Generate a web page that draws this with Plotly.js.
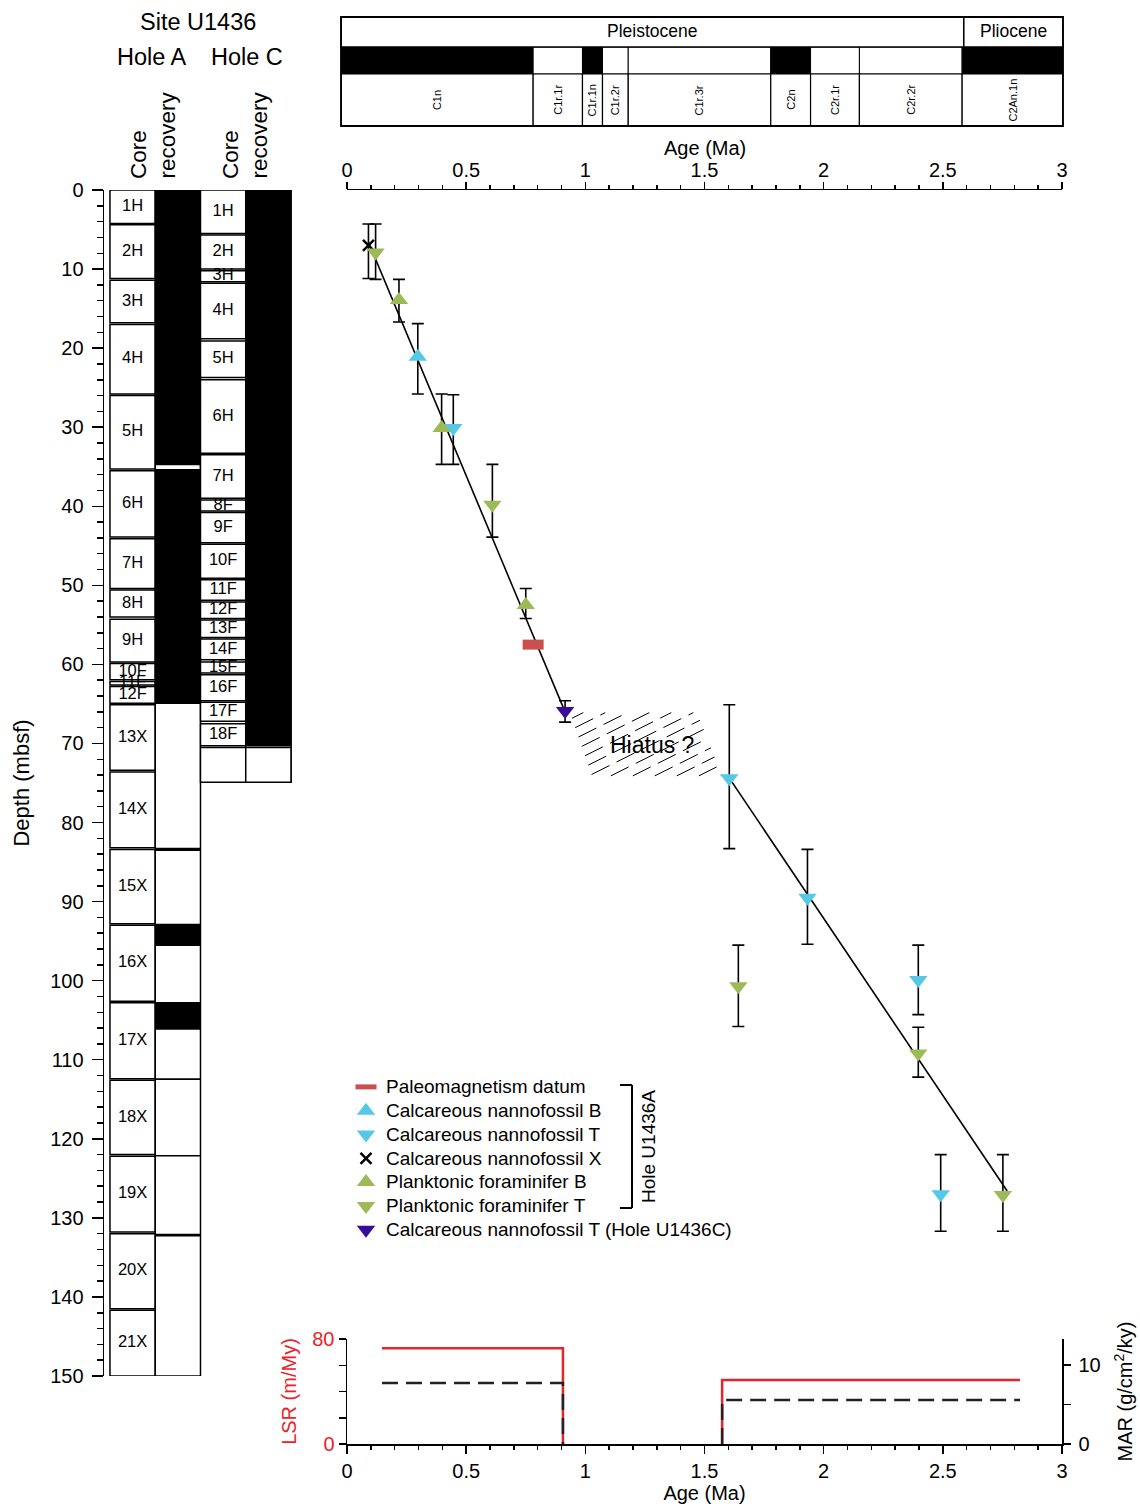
<!DOCTYPE html>
<html><head><meta charset="utf-8">
<script src="https://cdn.plot.ly/plotly-3.0.1.min.js"></script>
<style>body{margin:0;padding:0;background:#fff}#chart{width:1140px;height:1507px}</style>
</head><body><div id="chart"></div>
<script>
// ---------------- DATA ----------------
// Hole A cores (mbsf)
const holeACores  = ['1H','2H','3H','4H','5H','6H','7H','8H','9H','10F','11F','12F','13X','14X','15X','16X','17X','18X','19X','20X','21X'];
const holeATop    = [0,4.4,11.4,17.0,26.0,35.5,44.1,50.6,54.3,59.9,62.15,62.8,65.1,73.6,83.4,93.0,102.8,112.6,122.2,132.0,141.7];
const holeABottom = [4.25,11.2,16.8,25.8,35.3,43.9,50.4,54.0,59.7,61.95,62.6,64.9,73.4,83.2,92.8,102.6,112.4,122.0,131.8,141.5,150.0];
const holeARecTop    = [0,35.3,83.2,92.8,102.7,112.35,122.05,132.0];
const holeARecBottom = [34.8,65.0,83.6,95.6,106.2,112.55,122.25,132.35];
// Hole C cores (mbsf)
const holeCCores  = ['1H','2H','3H','4H','5H','6H','7H','8F','9F','10F','11F','12F','13F','14F','15F','16F','17F','18F',''];
const holeCTop    = [0,5.7,10.2,11.8,19.1,24.0,33.5,39.2,40.8,44.8,49.3,52.1,54.4,56.8,59.7,61.3,64.8,67.5,70.5];
const holeCBottom = [5.5,10.0,11.6,18.8,23.7,33.3,39.0,40.6,44.6,49.1,51.9,54.2,56.6,59.4,61.1,64.6,67.2,70.3,74.9];
const holeCRecTop    = [0];
const holeCRecBottom = [70.3];

// Chronostratigraphy (Ma)
const chronNames  = ['C1n','C1r.1r','C1r.1n','C1r.2r','C1r.3r','C2n','C2r.1r','C2r.2r','C2An.1n'];
const chronStart  = [-0.025,0.781,0.988,1.072,1.18,1.778,1.945,2.15,2.581];
const chronEnd    = [0.781,0.988,1.072,1.18,1.778,1.945,2.15,2.581,3.004];
const chronNormal = [1,0,1,0,0,1,0,0,1];
const epochNames  = ['Pleistocene','Pliocene'];
const epochStart  = [-0.025,2.588];
const epochEnd    = [2.588,3.004];

// Biostratigraphic / paleomagnetic datums: age (Ma), depth (mbsf), depth range top/bottom
const paleoAge = [0.781], paleoDepth = [57.5];
const nannoBAge = [0.297], nannoBDepth = [21.1], nannoBTop = [16.9], nannoBBot = [25.8];
const nannoTAge = [0.446,1.604,1.932,2.397,2.491], nannoTDepth = [30.1,74.4,89.5,99.9,127.0],
      nannoTTop = [25.9,65.1,83.4,95.5,122.0], nannoTBot = [34.7,83.3,95.4,104.3,131.7];
const nannoXAge = [0.09], nannoXDepth = [7.0], nannoXTop = [4.3], nannoXBot = [11.2];
const foramBAge = [0.218,0.397,0.75], foramBDepth = [13.9,30.1,52.5], foramBTop = [11.3,25.8,50.4], foramBBot = [16.7,34.7,54.2];
const foramTAge = [0.12,0.61,1.642,2.397,2.752], foramTDepth = [7.9,39.8,100.7,109.2,127.1],
      foramTTop = [4.3,34.7,95.5,105.9,122.0], foramTBot = [11.3,43.9,105.8,112.2,131.7];
const nannoTCAge = [0.915], nannoTCDepth = [65.9], nannoTCTop = [64.6], nannoTCBot = [67.3];

// Age model segments
const modelAge   = [0.09,0.915,null,1.60,2.77];
const modelDepth = [6.6,66.0,null,74.2,126.6];
// Hiatus polygon
const hiatusAge   = [0.936,1.469,1.573,1.028];
const hiatusDepth = [66.1,66.1,74.1,74.1];

// Sedimentation rates (step functions: value holds from rateAge[i] to rateAge[i+1])
const rateAge = [0.147,0.906,1.574,2.824];
const lsrValue = [73,0,48.8,48.8];     // m/My
const marValue = [7.73,0,5.57,5.57];   // g/cm2/ky

// ---------------- LAYOUT HELPERS ----------------
const W = 1140, H = 1507;
const fx = p => p / W;
const fy = p => 1 - p / H;
const dom = (a, b) => [fy(b), fy(a)];
const FONT = 'Liberation Sans, Arial, Helvetica, sans-serif';
const RED = '#e8232a', CYAN = '#55c8e6', GREEN = '#9cbb58', PURPLE = '#3b0a9b', PALEO = '#c9504f';
const pxMa = 715 / 3, pxM = 1186 / 150;

// ---------------- TRACES ----------------
const traces = [];
function barTrace(xpos, tops, bots, fill, lineW) {
  return {type:'bar', xaxis:'x', yaxis:'y', x: tops.map(() => xpos), base: tops,
    y: tops.map((t, i) => bots[i] - t), width: 1, cliponaxis:false,
    marker:{color: fill, line:{color:'black', width: lineW}}, showlegend:false, hoverinfo:'skip'};
}
traces.push(barTrace(0.5, holeATop, holeABottom, 'white', 1.5));
traces.push(barTrace(1.5, [holeATop[0]], [holeABottom[holeABottom.length-1]], 'white', 1.5));
traces.push(barTrace(1.5, holeARecTop, holeARecBottom, 'black', 0));
traces.push(barTrace(2.5, holeCTop, holeCBottom, 'white', 1.5));
traces.push(barTrace(3.5, [holeCTop[0]], [holeCBottom[holeCBottom.length-1]], 'white', 1.5));
traces.push(barTrace(3.5, holeCRecTop, holeCRecBottom, 'black', 1.5));
traces.push(barTrace(3.5, [holeCTop[holeCTop.length-1]], [holeCBottom[holeCBottom.length-1]], 'white', 1.5));
function labelTrace(xpos, names, tops, bots) {
  const keep = names.map((n, i) => i).filter(i => names[i] !== '');
  return {type:'scatter', mode:'text', xaxis:'x', yaxis:'y', x: keep.map(() => xpos),
    y: keep.map(i => (tops[i] + bots[i]) / 2), text: keep.map(i => names[i]), cliponaxis:false,
    textfont:{size:16.5, color:'black', family:FONT}, textposition:'middle center', showlegend:false, hoverinfo:'skip'};
}
traces.push(labelTrace(0.5, holeACores, holeATop, holeABottom));
traces.push(labelTrace(2.5, holeCCores, holeCTop, holeCBottom));

// hiatus hatching (generated from polygon)
function hatch(ages, depths, slope, step) {
  const P = ages.map((a, i) => [a * pxMa, depths[i] * pxM]);
  const cs = P.map(p => p[1] + slope * p[0]);
  const cmin = Math.min(...cs), cmax = Math.max(...cs);
  const xs = [], ys = [];
  for (let c = cmin + step * 0.6; c < cmax; c += step) {
    const pts = [];
    for (let i = 0; i < P.length; i++) {
      const p = P[i], q = P[(i + 1) % P.length];
      const fp = p[1] + slope * p[0] - c, fq = q[1] + slope * q[0] - c;
      if ((fp <= 0 && fq > 0) || (fp > 0 && fq <= 0)) {
        const t = fp / (fp - fq);
        pts.push([p[0] + t * (q[0] - p[0]), p[1] + t * (q[1] - p[1])]);
      }
    }
    if (pts.length >= 2) {
      pts.sort((u, v) => u[0] - v[0]);
      xs.push(pts[0][0] / pxMa, pts[pts.length-1][0] / pxMa, null);
      ys.push(pts[0][1] / pxM, pts[pts.length-1][1] / pxM, null);
    }
  }
  return {xs, ys};
}
const hh = hatch(hiatusAge, hiatusDepth, 0.5, 11);
traces.push({type:'scatter', mode:'lines', xaxis:'x2', yaxis:'y', x: hh.xs, y: hh.ys,
  line:{color:'black', width:1, dash:'20px,8px'}, showlegend:false, hoverinfo:'skip'});

// age model
traces.push({type:'scatter', mode:'lines', xaxis:'x2', yaxis:'y', x: modelAge, y: modelDepth,
  line:{color:'black', width:1.6}, showlegend:false, hoverinfo:'skip', connectgaps:false});

function err(depth, top, bot) {
  return {type:'data', symmetric:false, array: bot.map((b, i) => b - depth[i]),
    arrayminus: top.map((t, i) => depth[i] - t), color:'black', thickness:1.6, width:6};
}
const LG = n => '<span style="font-size:19px">' + n + '</span>';
function datum(name, ages, depths, top, bot, symbol, color, size, extra) {
  const t = {type:'scatter', mode:'markers', name: LG(name), xaxis:'x2', yaxis:'y', x: ages, y: depths,
    marker:{symbol, color, size, line:{width:0, color}}, hoverinfo:'skip', cliponaxis:false};
  if (top) t.error_y = err(depths, top, bot);
  return Object.assign(t, extra || {});
}
traces.push(datum('Paleomagnetism datum', paleoAge, paleoDepth, null, null, 'line-ew', PALEO, 15,
  {marker:{symbol:'line-ew', color:PALEO, size:15, line:{width:10, color:PALEO}}}));
traces.push(datum('Calcareous nannofossil B', nannoBAge, nannoBDepth, nannoBTop, nannoBBot, 'triangle-up', CYAN, 16));
traces.push(datum('Calcareous nannofossil T', nannoTAge, nannoTDepth, nannoTTop, nannoTBot, 'triangle-down', CYAN, 16));
traces.push(datum('Calcareous nannofossil X', nannoXAge, nannoXDepth, nannoXTop, nannoXBot, 'x-thin', 'black', 11,
  {marker:{symbol:'x-thin', color:'black', size:11, line:{width:2.5, color:'black'}}}));
traces.push(datum('Planktonic foraminifer B', foramBAge, foramBDepth, foramBTop, foramBBot, 'triangle-up', GREEN, 16));
traces.push(datum('Planktonic foraminifer T', foramTAge, foramTDepth, foramTTop, foramTBot, 'triangle-down', GREEN, 16));
traces.push(datum('Calcareous nannofossil T (Hole U1436C)', nannoTCAge, nannoTCDepth, nannoTCTop, nannoTCBot, 'triangle-down', PURPLE, 16));

// rates: step paths built from the step arrays; zero-rate stretches lie on the axis and are left undrawn
function stepPath(ages, vals) {
  const xs = [], ys = [];
  for (let i = 0; i < ages.length - 1; i++) {
    if (vals[i] !== 0) { xs.push(ages[i], ages[i + 1]); ys.push(vals[i], vals[i]); }
    else { xs.push(null, ages[i + 1]); ys.push(null, vals[i]); }
    xs.push(ages[i + 1]); ys.push(vals[i + 1]);
  }
  return {xs, ys};
}
const lsrPath = stepPath(rateAge, lsrValue), marPath = stepPath(rateAge, marValue);
traces.push({type:'scatter', mode:'lines', xaxis:'x4', yaxis:'y4', x: lsrPath.xs, y: lsrPath.ys,
  line:{color:RED, width:2.5}, showlegend:false, hoverinfo:'skip', cliponaxis:false, connectgaps:false});
traces.push({type:'scatter', mode:'lines', xaxis:'x4', yaxis:'y5', x: marPath.xs, y: marPath.ys,
  line:{color:'#222', width:2.5, dash:'16px,8px'}, showlegend:false, hoverinfo:'skip', cliponaxis:false, connectgaps:false});

// ---------------- SHAPES & ANNOTATIONS ----------------
const shapes = [], annotations = [];
const ROW = {epochTop:17, polTop:47, chronTop:74, bottom:126};
chronNames.forEach((n, i) => {
  shapes.push({type:'rect', xref:'x3', yref:'paper', x0:chronStart[i], x1:chronEnd[i], y0:fy(ROW.polTop), y1:fy(ROW.chronTop),
    fillcolor: chronNormal[i] ? 'black' : 'white', line:{color:'black', width:1}});
  shapes.push({type:'rect', xref:'x3', yref:'paper', x0:chronStart[i], x1:chronEnd[i], y0:fy(ROW.chronTop), y1:fy(ROW.bottom),
    fillcolor:'white', line:{color:'black', width:1.2}});
  annotations.push({xref:'x3', yref:'paper', x:(chronStart[i] + chronEnd[i]) / 2, y:fy(100), text:n, textangle:-90,
    showarrow:false, font:{size:11, family:FONT}, xanchor:'center', yanchor:'middle'});
});
epochNames.forEach((n, i) => {
  shapes.push({type:'rect', xref:'x3', yref:'paper', x0:epochStart[i], x1:epochEnd[i], y0:fy(ROW.epochTop), y1:fy(ROW.polTop),
    fillcolor:'white', line:{color:'black', width:1.5}});
  annotations.push({xref:'x3', yref:'paper', x:(epochStart[i] + epochEnd[i]) / 2, y:fy(31), text:n,
    showarrow:false, font:{size:17.5, family:FONT}, xanchor:'center', yanchor:'middle'});
});
shapes.push({type:'rect', xref:'x3', yref:'paper', x0:chronStart[0], x1:chronEnd[chronEnd.length-1], y0:fy(ROW.epochTop), y1:fy(ROW.bottom),
  line:{color:'black', width:1.8}, fillcolor:'rgba(0,0,0,0)'});

// legend bracket
shapes.push({type:'line', xref:'paper', yref:'paper', x0:fx(620), x1:fx(632), y0:fy(1085), y1:fy(1085), line:{color:'black', width:2}});
shapes.push({type:'line', xref:'paper', yref:'paper', x0:fx(632), x1:fx(632), y0:fy(1085), y1:fy(1208), line:{color:'black', width:2}});
shapes.push({type:'line', xref:'paper', yref:'paper', x0:fx(620), x1:fx(632), y0:fy(1208), y1:fy(1208), line:{color:'black', width:2}});

function txt(t, x, y, size, extra) {
  return Object.assign({xref:'paper', yref:'paper', x:fx(x), y:fy(y), text:t, showarrow:false,
    font:{size, family:FONT, color:'black'}, xanchor:'center', yanchor:'middle'}, extra || {});
}
annotations.push(txt('Site U1436', 197.5, 22, 23.5));
annotations.push(txt('Hole A', 152, 57, 23.5));
annotations.push(txt('Hole C', 246.5, 57, 23.5));
annotations.push(txt('Core', 138.5, 181, 22.5, {textangle:-90, yanchor:'bottom'}));
annotations.push(txt('recovery', 167, 181, 22.5, {textangle:-90, yanchor:'bottom'}));
annotations.push(txt('Core', 230.5, 181, 22.5, {textangle:-90, yanchor:'bottom'}));
annotations.push(txt('recovery', 259, 181, 22.5, {textangle:-90, yanchor:'bottom'}));
annotations.push(txt('Hole U1436A', 648, 1147, 19, {textangle:-90}));
annotations.push(txt('Age (Ma)', 704.5, 148, 20));
annotations.push({xref:'x2', yref:'y', x:1.28, y:70.2, text:'Hiatus ?', showarrow:false,
  font:{size:23, family:FONT, color:'black'}, xanchor:'center', yanchor:'middle'});

// ---------------- LAYOUT ----------------
const axBase = {showgrid:false, zeroline:false, color:'black', linecolor:'black', tickcolor:'black'};
const layout = {
  width:W, height:H, margin:{l:0, r:0, t:0, b:0}, paper_bgcolor:'white', plot_bgcolor:'rgba(0,0,0,0)',
  font:{family:FONT, size:20, color:'black'}, barmode:'overlay', showlegend:true, hovermode:false,
  legend:{x:fx(346), y:fy(1070), xanchor:'left', yanchor:'top', bgcolor:'rgba(0,0,0,0)', font:{size:16, family:FONT},
    tracegroupgap:0, itemwidth:30},
  xaxis: Object.assign({}, axBase, {domain:[fx(104.1), fx(291.9)], range:[-0.13, 4.02], visible:false, anchor:'y', fixedrange:true}),
  yaxis: Object.assign({}, axBase, {domain:dom(190, 1376), range:[150, 0], anchor:'x', side:'left',
    showline:true, linewidth:1.5, ticks:'outside', ticklen:11, tickwidth:1.5, dtick:10, tick0:0,
    tickfont:{size:20}, ticklabelstandoff:4,
    minor:{dtick:2, ticklen:6, tickwidth:1.5, ticks:'outside', tickcolor:'black'},
    title:{text:'Depth (mbsf)', font:{size:22}, standoff:14}}),
  xaxis2: Object.assign({}, axBase, {domain:[fx(347), fx(1062)], range:[0, 3], anchor:'y', side:'top',
    showline:true, linewidth:1.5, ticks:'outside', ticklen:7, tickwidth:1.5, dtick:0.5, tick0:0,
    tickfont:{size:20}, ticklabelstandoff:-3,
    minor:{dtick:0.1, ticklen:4, tickwidth:1.5, ticks:'outside', tickcolor:'black'}}),
  xaxis3: {domain:[fx(347 - 0.035 * pxMa), fx(347 + 3.015 * pxMa)], range:[-0.035, 3.015], visible:false, anchor:'y3', fixedrange:true},
  yaxis3: {domain:dom(17, 126), range:[0, 1], visible:false, anchor:'x3', fixedrange:true},
  xaxis4: Object.assign({}, axBase, {domain:[fx(347), fx(1062)], range:[0, 3], anchor:'y4', side:'bottom',
    showline:true, linewidth:2, ticks:'outside', ticklen:8, tickwidth:1.5, dtick:0.5, tick0:0,
    tickfont:{size:20}, minor:{dtick:0.1, ticklen:4, tickwidth:1.5, ticks:'outside', tickcolor:'black'},
    title:{text:'Age (Ma)', font:{size:20}, standoff:4}}),
  yaxis4: Object.assign({}, axBase, {domain:dom(1339, 1444), range:[0, 80], anchor:'x4', side:'left',
    showline:true, linewidth:1.5, ticks:'outside', ticklen:7, tickwidth:1.5, tickvals:[0,80],
    minor:{dtick:20, ticklen:7, tickwidth:1.5, ticks:'outside', tickcolor:'black'}, tickfont:{size:20, color:RED},
    title:{text:'LSR (m/My)', font:{size:20, color:RED}, standoff:10}}),
  yaxis5: Object.assign({}, axBase, {domain:dom(1339, 1444), range:[0, 13.3], anchor:'x4', overlaying:'y4', side:'right',
    showline:true, linewidth:1.5, ticks:'outside', ticklen:7, tickwidth:1.5, tickvals:[0,10],
    minor:{dtick:5, ticklen:7, tickwidth:1.5, ticks:'outside', tickcolor:'black'}, tickfont:{size:20}, ticklabelstandoff:4,
    title:{text:'MAR (g/cm<sup>2</sup>/ky)', font:{size:20}, standoff:18}}),
  shapes, annotations
};
Plotly.newPlot('chart', traces, layout, {staticPlot:true, displayModeBar:false});
</script></body></html>
